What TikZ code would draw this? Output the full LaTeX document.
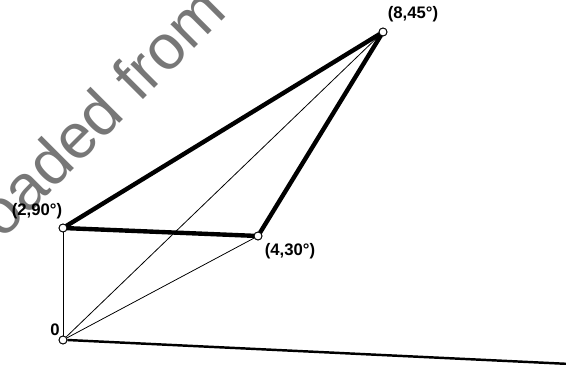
\documentclass[tikz,border=0pt]{standalone}
\usepackage{fontspec}
\setmainfont{Liberation Sans}
\usepackage{tikz}
\usetikzlibrary{positioning}
\definecolor{markgray}{HTML}{777777}

\begin{document}
\begin{tikzpicture}[
    x=0.02cm, y=-0.02cm,
    vertex/.style={circle, draw=black, fill=white, line width=0.5pt, inner sep=0pt, minimum size=4.5pt},
    tag/.style={font=\fontsize{9.5}{10}\selectfont\bfseries, inner sep=0pt},
    chord/.style={line width=0.45pt},
    side/.style={line width=2.5pt, line cap=round},
    baseline/.style={line width=1.4pt},
    stamp/.style={font=\fontsize{36}{37}\selectfont, text=markgray, rotate=45, inner sep=0pt}
]
\useasboundingbox (0,0) rectangle (566,365);

% Watermark behind the drawing
\node[stamp, anchor=base east] (stamp) at (229,14) {Downloaded from};

% The four points
\node[vertex] (orig) at (63,340) {};
\node[vertex] (p90) at (63,228) {};
\node[vertex] (p30) at (258,236) {};
\node[vertex] (p45) at (383,32) {};
\coordinate (far) at (570,364);

% Labels
\node[tag] (l90) at (37,211) {(2,90°)};
\node[tag] (l30) at (290,251) {(4,30°)};
\node[tag] (l45) at (413,14) {(8,45°)};
\node[tag] (lo) at (55,330) {0};

% Thin lines from the origin
\draw[chord, line width=0.55pt] (orig) -- (p90);
\draw[chord] (orig) -- (p30);
\draw[chord] (orig) -- (p45);
\draw[baseline] (orig.east) -- (far);

% Heavy triangle
\draw[side] (p90) -- (p30);
\draw[side] (p90) -- (p45);
\draw[side] (p30) -- (p45);

% Redraw points on top
\node[vertex] at (orig) {};
\node[vertex] at (p90) {};
\node[vertex] at (p30) {};
\node[vertex] at (p45) {};

\end{tikzpicture}
\end{document}
